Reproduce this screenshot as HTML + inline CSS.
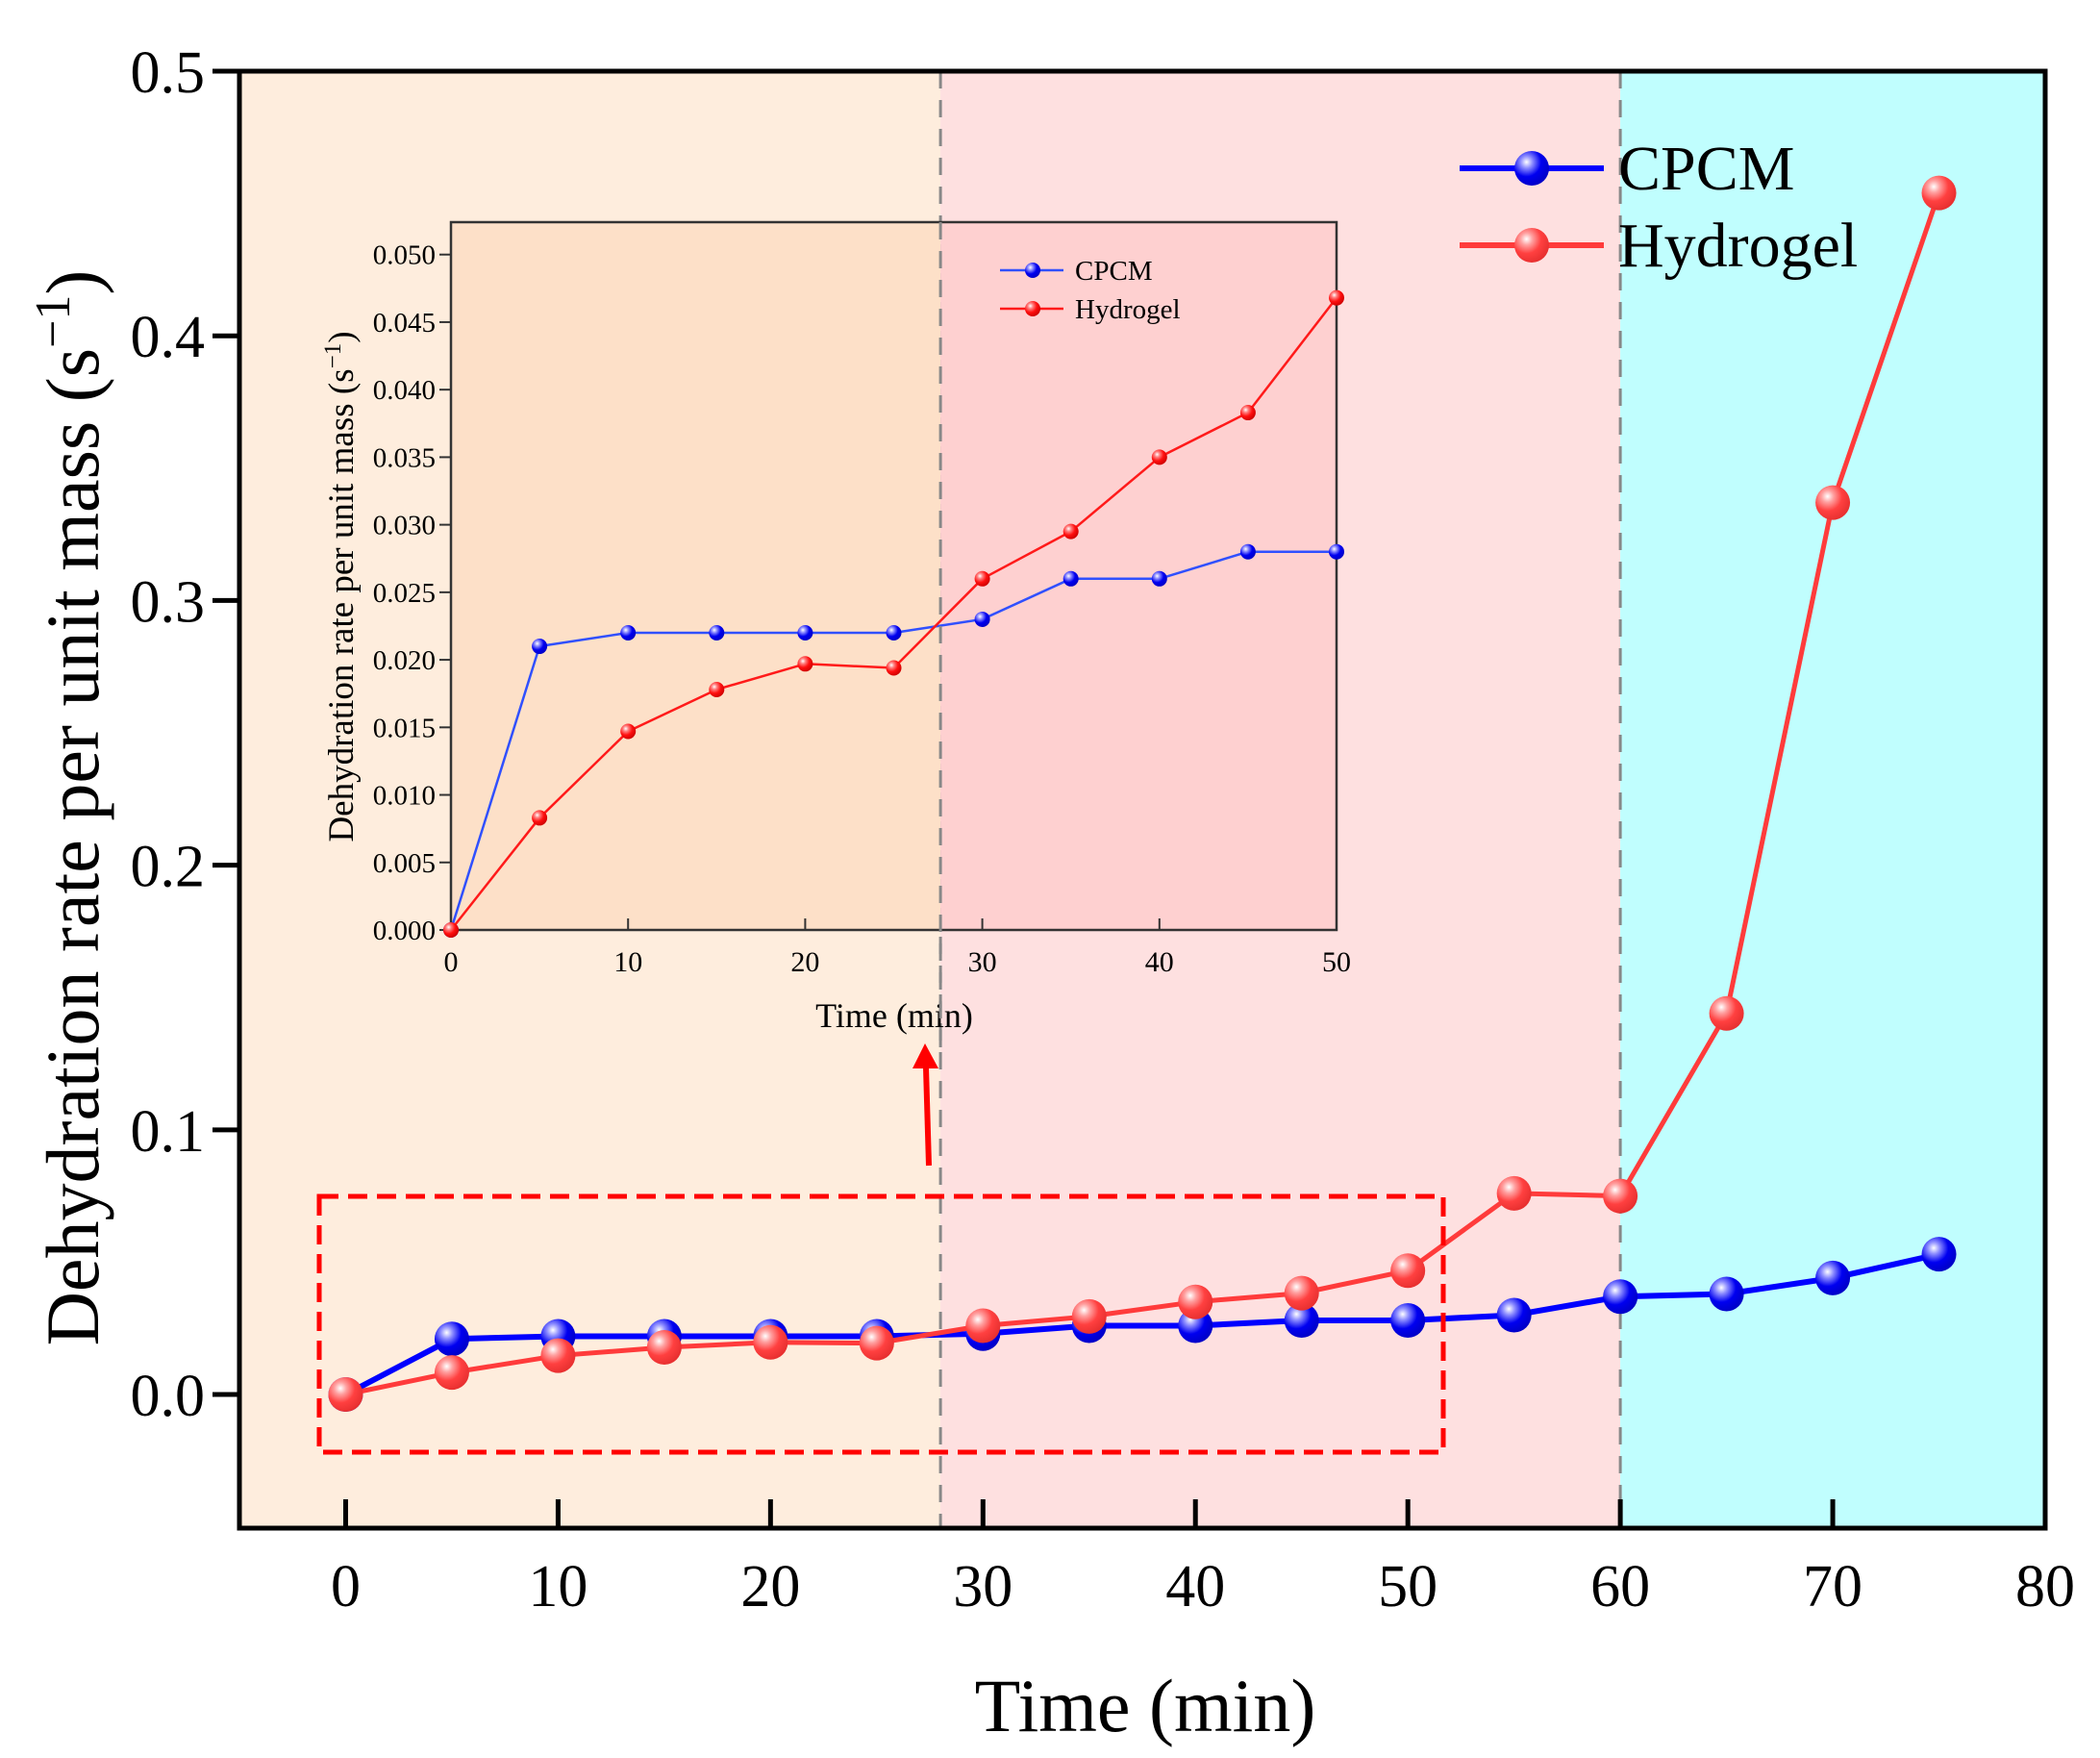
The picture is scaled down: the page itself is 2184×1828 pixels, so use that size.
<!DOCTYPE html>
<html><head><meta charset="utf-8"><style>
html,body{margin:0;padding:0;background:#fff;}
svg{display:block;font-family:"Liberation Serif",serif;}
</style></head><body>
<svg id="chart" width="2184" height="1828" viewBox="0 0 2184 1828" xmlns="http://www.w3.org/2000/svg">
<defs>
<radialGradient id="gBlue" cx="0.35" cy="0.32" r="0.7"><stop offset="0" stop-color="#ffffff"/><stop offset="0.25" stop-color="#8c8cff"/><stop offset="0.6" stop-color="#0000f0"/><stop offset="1" stop-color="#0000c8"/></radialGradient>
<radialGradient id="gRed" cx="0.35" cy="0.32" r="0.7"><stop offset="0" stop-color="#ffffff"/><stop offset="0.25" stop-color="#ffa0a0"/><stop offset="0.6" stop-color="#ff4040"/><stop offset="1" stop-color="#e83030"/></radialGradient>
<radialGradient id="gRed2" cx="0.35" cy="0.32" r="0.7"><stop offset="0" stop-color="#ffffff"/><stop offset="0.25" stop-color="#ff8080"/><stop offset="0.6" stop-color="#ff1010"/><stop offset="1" stop-color="#d00000"/></radialGradient>
</defs>
<g id="main"></g>
<g id="inset"></g>
<g id="overlay"></g>
</svg>
<script>
const times = [0,5,10,15,20,25,30,35,40,45,50,55,60,65,70,75];
const cpcmValues = [0,0.021,0.022,0.022,0.022,0.022,0.023,0.026,0.026,0.028,0.028,0.030,0.037,0.038,0.044,0.053];
const hydrogelValues = [0,0.0083,0.0147,0.0178,0.0197,0.0194,0.026,0.0295,0.035,0.0383,0.0468,0.076,0.075,0.144,0.337,0.454];
const xTicks = [0,10,20,30,40,50,60,70,80];
const yTicks = [0.0,0.1,0.2,0.3,0.4,0.5];
const yTickLabels = ["0.0","0.1","0.2","0.3","0.4","0.5"];
const insetTimes = [0,5,10,15,20,25,30,35,40,45,50];
const insetCpcm = [0,0.021,0.022,0.022,0.022,0.022,0.023,0.026,0.026,0.028,0.028];
const insetHydrogel = [0,0.0083,0.0147,0.0178,0.0197,0.0194,0.026,0.0295,0.035,0.0383,0.0468];
const insetXTicks = [0,10,20,30,40,50];
const insetYTicks = [0,0.005,0.01,0.015,0.02,0.025,0.03,0.035,0.04,0.045,0.05];
const insetYTickLabels = ["0.000","0.005","0.010","0.015","0.020","0.025","0.030","0.035","0.040","0.045","0.050"];
const regionBounds = [28,60];

const NS="http://www.w3.org/2000/svg";
function mk(parent,tag,attrs,text){const e=document.createElementNS(NS,tag);for(const k in attrs)e.setAttribute(k,attrs[k]);if(text!==undefined)e.textContent=text;parent.appendChild(e);return e;}

const L=249,R=2127,T=74,B=1589;
const xMin=-5,xMax=80,yMin=-0.0505,yMax=0.5;
const X=v=>L+(v-xMin)/(xMax-xMin)*(R-L);
const Y=v=>B-(v-yMin)/(yMax-yMin)*(B-T);
const g=document.getElementById('main');
let e;
e=mk(g,'rect',{x:L,y:T,width:X(regionBounds[0])-L,height:B-T,fill:'#feeddd'});

e=mk(g,'rect',{x:X(regionBounds[0]),y:T,width:X(regionBounds[1])-X(regionBounds[0]),height:B-T,fill:'#fee0e0'});

e=mk(g,'rect',{x:X(regionBounds[1]),y:T,width:R-X(regionBounds[1]),height:B-T,fill:'#c0fefe'});

regionBounds.forEach(b=>{e=mk(g,'line',{x1:X(b),x2:X(b),y1:T,y2:B,stroke:'#888',"stroke-width":3,"stroke-dasharray":"18 12"});
});

xTicks.forEach(t=>{
 e=mk(g,'line',{x1:X(t),x2:X(t),y1:B,y2:B-30,stroke:'#000',"stroke-width":5});
 
 e=mk(g,'text',{x:X(t),y:1670,"font-size":62,"text-anchor":"middle"},String(t));
 
});
yTicks.forEach((t,i)=>{
 e=mk(g,'line',{x1:L,x2:L-28,y1:Y(t),y2:Y(t),stroke:'#000',"stroke-width":5});
 
 e=mk(g,'text',{x:213,y:Y(t)+22,"font-size":62,"text-anchor":"end"},yTickLabels[i]);
 
});
e=mk(g,'rect',{x:L,y:T,width:R-L,height:B-T,fill:'none',stroke:'#000',"stroke-width":5});

e=mk(g,'text',{x:1191,y:1800,"font-size":78,"text-anchor":"middle"},'Time (min)');

const yt=mk(g,'text',{x:0,y:0,"font-size":78,"text-anchor":"middle",transform:"translate(102,840) rotate(-90)"});

yt.appendChild(document.createTextNode('Dehydration rate per unit mass (s'));
mk(yt,'tspan',{dy:-30,"font-size":52},'−1');
mk(yt,'tspan',{dy:30},')');

function series(parent,xs,ys,Xf,Yf,color,grad,w,r,name){
 const pts=xs.map((t,i)=>Xf(t)+','+Yf(ys[i])).join(' ');
 let l=mk(parent,'polyline',{points:pts,fill:'none',stroke:color,"stroke-width":w,"stroke-linejoin":"round"});
 
 xs.forEach((t,i)=>{let c=mk(parent,'circle',{cx:Xf(t),cy:Yf(ys[i]),r:r,fill:'url(#'+grad+')'});
 });
}
series(g,times,cpcmValues,X,Y,'#0000ff','gBlue',6,18,'cpcm');
series(g,times,hydrogelValues,X,Y,'#ff3b3b','gRed',5,18,'hydrogel');

e=mk(g,'line',{x1:1518,x2:1668,y1:175,y2:175,stroke:'#0000ff',"stroke-width":6});

e=mk(g,'circle',{cx:1593,cy:175,r:18,fill:'url(#gBlue)'});

e=mk(g,'text',{x:1683,y:197,"font-size":66},'CPCM');

e=mk(g,'line',{x1:1518,x2:1668,y1:255,y2:255,stroke:'#ff3b3b',"stroke-width":6});

e=mk(g,'circle',{cx:1593,cy:255,r:18,fill:'url(#gRed)'});

e=mk(g,'text',{x:1683,y:277,"font-size":66},'Hydrogel');


const IL=469,IR=1390,IT=231,IB=967;
const iyMax=0.0524;
const IX=v=>IL+v/50*(IR-IL);
const IY=v=>IB-v/iyMax*(IB-IT);
const ig=document.getElementById('inset');
e=mk(ig,'rect',{x:IL,y:IT,width:X(regionBounds[0])-IL,height:IB-IT,fill:'#fde0c8'});

e=mk(ig,'rect',{x:X(regionBounds[0]),y:IT,width:IR-X(regionBounds[0]),height:IB-IT,fill:'#fed0d0'});

insetXTicks.forEach(t=>{
 e=mk(ig,'line',{x1:IX(t),x2:IX(t),y1:IB,y2:IB-12,stroke:'#333',"stroke-width":2});
 
 e=mk(ig,'text',{x:IX(t),y:1010,"font-size":30,"text-anchor":"middle"},String(t));
 
});
insetYTicks.forEach((t,i)=>{
 e=mk(ig,'line',{x1:IL,x2:IL-12,y1:IY(t),y2:IY(t),stroke:'#333',"stroke-width":2});
 
 e=mk(ig,'text',{x:453,y:IY(t)+10,"font-size":29,"text-anchor":"end"},insetYTickLabels[i]);
 
});
e=mk(ig,'rect',{x:IL,y:IT,width:IR-IL,height:IB-IT,fill:'none',stroke:'#333',"stroke-width":2.5});

e=mk(ig,'text',{x:930,y:1068,"font-size":36,"text-anchor":"middle"},'Time (min)');

const iyt=mk(ig,'text',{x:0,y:0,"font-size":37,"text-anchor":"middle",transform:"translate(367,610) rotate(-90)"});

iyt.appendChild(document.createTextNode('Dehydration rate per unit mass (s'));
mk(iyt,'tspan',{dy:-13,"font-size":25},'−1');
mk(iyt,'tspan',{dy:13},')');
series(ig,insetTimes,insetCpcm,IX,IY,'#3050ff','gBlue',2.5,8,'inset-cpcm');
series(ig,insetTimes,insetHydrogel,IX,IY,'#ff1a1a','gRed2',2.5,8,'inset-hydrogel');
e=mk(ig,'line',{x1:1040,x2:1106,y1:281,y2:281,stroke:'#3050ff',"stroke-width":2.5});

e=mk(ig,'circle',{cx:1074,cy:281,r:8,fill:'url(#gBlue)'});

e=mk(ig,'text',{x:1118,y:291,"font-size":29},'CPCM');

e=mk(ig,'line',{x1:1040,x2:1106,y1:321,y2:321,stroke:'#ff1a1a',"stroke-width":2.5});

e=mk(ig,'circle',{cx:1074,cy:321,r:8,fill:'url(#gRed2)'});

e=mk(ig,'text',{x:1118,y:331,"font-size":29},'Hydrogel');

e=mk(ig,'line',{x1:X(regionBounds[0]),x2:X(regionBounds[0]),y1:IT,y2:1100,stroke:'#888',"stroke-width":3,"stroke-dasharray":"18 12"});


const og=document.getElementById('overlay');
e=mk(og,'rect',{x:332,y:1244,width:1169,height:266,fill:'none',stroke:'#ff0000',"stroke-width":5,"stroke-dasharray":"20 10"});

e=mk(og,'line',{x1:966,y1:1212,x2:963,y2:1110,stroke:'#ff0000',"stroke-width":6});

e=mk(og,'polygon',{points:"962,1085 949,1111 976,1111",fill:'#ff0000'});

</script>
</body></html>
